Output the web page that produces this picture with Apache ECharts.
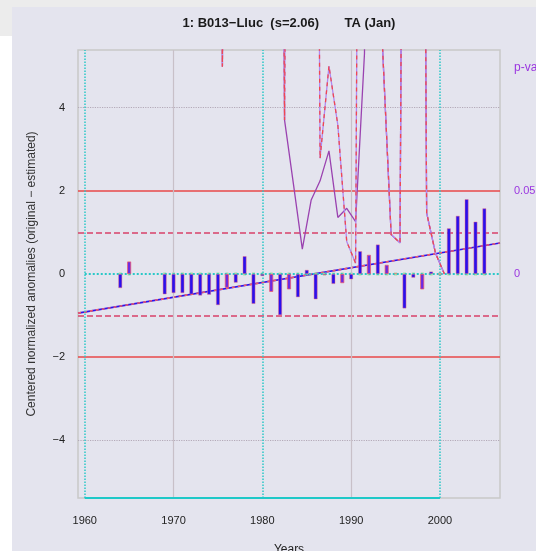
<!DOCTYPE html>
<html><head><meta charset="utf-8">
<script src="https://cdn.jsdelivr.net/npm/echarts@6/dist/echarts.min.js"></script>
<style>html,body{margin:0;padding:0;background:#fff}#c{width:536px;height:551px}</style>
</head><body><div id="c"></div>
<script>
// ---- data ----
const years = [1961,1962,1963,1964,1965,1966,1967,1968,1969,1970,1971,1972,1973,1974,1975,1976,1977,1978,1979,1980,1981,1982,1983,1984,1985,1986,1987,1988,1989,1990,1991,1992,1993,1994,1995,1996,1997,1998,1999,2000,2001,2002,2003,2004,2005];
const anomalies = [null,null,null,-0.34,0.30,null,null,null,-0.49,-0.46,-0.46,-0.49,-0.52,-0.50,-0.75,-0.33,-0.21,0.43,-0.72,-0.05,-0.43,-0.99,-0.37,-0.56,0.10,-0.61,-0.03,-0.24,-0.22,-0.13,0.55,0.46,0.71,0.22,0.02,-0.83,-0.09,-0.37,0.06,0.00,1.10,1.40,1.80,1.26,1.58];
const reddishYears = [1965,1976,1981,1983,1989,1992,1994,1998];
const trendYears = [1959.24, 2006.76];
const trendValues = [-0.94, 0.745];
const pYears = [1974.5,1975.5,1976.5,1977.5,1978.5,1979.5,1980.5,1981.5,1982.5,1983.5,1984.5,1985.5,1986.5,1987.5,1988.5,1989.5,1990.5,1991.5,1992.5,1993.5,1994.5,1995.5,1996.5,1997.5,1998.5,1999.5,2000.5];
const pValuesA = [1,0.1246,1,1,1,1,1,1,0.0925,1,1,1,0.0695,0.125,0.0895,0.0195,0.0065,1,1,0.14,0.0237,0.0187,1,1,0.0367,0.0124,0.0];
const pValuesB = [1,0.1246,1,1,1,1,1,1,0.0925,0.054,0.015,0.0445,0.056,0.074,0.034,0.0395,0.0315,0.1325,1,0.14,0.0237,0.0187,1,1,0.0367,0.0124,0.0];
const xTicks = [1960,1970,1980,1990,2000];
const yTicks = [-4,-2,0,2,4];
const pTicks = [0,0.05];
const title = '1: B013\u2212Lluc  (s=2.06)       TA (Jan)';
const yTitle = 'Centered normalized anomalies (original \u2212 estimated)';
const xTitle = 'Years';
const xMin = 1959.24, xMax = 2006.76;
const yLim = 5.385;
const pScale = 0.025; // 0.05 on p axis aligns with 2 on left axis

// ---- chart ----
const chart = echarts.init(document.getElementById('c'), null, {renderer:'canvas'});
const F = 'Liberation Sans, Arial, sans-serif';
const barData = years.map((y,i)=>({value:[y, anomalies[i]], itemStyle: reddishYears.includes(y) ? {color:'#6a2ae4', borderColor:'rgba(244,88,100,0.9)'} : {}}));
const zeroDots = years.filter((y,i)=>anomalies[i]!==null).map(y=>[y,0]);
const hl = (v, color, type, w) => ({yAxis: v, lineStyle:{color, type, width:w}});
const vl = (v, color, type, w) => ({xAxis: v, lineStyle:{color, type, width:w}});

chart.setOption({
  backgroundColor:'#ffffff',
  animation:false,
  graphic:[
    {type:'rect', shape:{x:0,y:0,width:536,height:7}, style:{fill:'#ececec'}, silent:true, z:-10},
    {type:'rect', shape:{x:0,y:0,width:12,height:36}, style:{fill:'#ececec'}, silent:true, z:-10},
    {type:'rect', shape:{x:12,y:7,width:524,height:544}, style:{fill:'#e4e4ee'}, silent:true, z:-9},
    {type:'text', x:514, y:68, style:{text:'p-value', fill:'#9b36e0', font:'12px '+F, textVerticalAlign:'middle'}},
    {type:'text', x:289, y:23, style:{text:title, fill:'#1a1a1a', font:'bold 13px '+F, textAlign:'center', textVerticalAlign:'middle'}},
  ],
  grid:{left:78, top:50, right:36, bottom:53, outerBoundsMode:'none', containLabel:false, show:true, borderColor:'#c8c8c8', borderWidth:1.5, backgroundColor:'transparent'},
  xAxis:{type:'value', min:xMin, max:xMax, name:xTitle, nameLocation:'middle', nameGap:46,
    nameTextStyle:{color:'#222', fontSize:12, fontFamily:F},
    axisLine:{show:false}, axisTick:{show:false}, splitLine:{show:false},
    axisLabel:{customValues:xTicks, color:'#222', fontSize:11, fontFamily:F, margin:17, formatter:v=>String(v)}},
  yAxis:[
    {type:'value', min:-yLim, max:yLim, name:yTitle, nameLocation:'middle', nameGap:40, nameRotate:90,
     nameTextStyle:{color:'#333', fontSize:12, fontFamily:F},
     axisLine:{show:false}, axisTick:{show:false}, splitLine:{show:false},
     axisLabel:{customValues:yTicks, color:'#222', fontSize:11, fontFamily:F, margin:13, formatter:v=>String(v).replace('-','\u2212')}},
    {type:'value', min:-yLim*pScale, max:yLim*pScale, position:'right',
     axisLine:{show:false}, axisTick:{show:false}, splitLine:{show:false},
     axisLabel:{customValues:pTicks, color:'#9b36e0', fontSize:11, fontFamily:F, margin:14, formatter:v=> v===0?'0':'0.05'}}
  ],
  series:[
    {type:'line', data:[], silent:true, markLine:{symbol:'none', silent:true, label:{show:false}, animation:false, data:[
      hl(4,'#b4aab8','dotted',1.2), hl(-4,'#b4aab8','dotted',1.2),
      hl(2,'#e84848','solid',1.5), hl(-2,'#e84848','solid',1.5),
      hl(1,'#d8406a','dashed',1.5), hl(-1,'#d8406a','dashed',1.5),
      vl(1970,'#c8c0c8','solid',1.2), vl(1990,'#c8c0c8','solid',1.2),
      vl(1960,'#2ac8c8','dotted',1.5), vl(1980,'#2ac8c8','dotted',1.5), vl(2000,'#2ac8c8','dotted',1.5),
      [{coord:[1960,0], lineStyle:{color:'#2ac8c8', type:'dotted', width:2}}, {coord:[xMax,0]}],
      [{coord:[1960,-yLim], lineStyle:{color:'#1ec8c8', type:'solid', width:2}}, {coord:[2000,-yLim]}]
    ]}},
    {type:'line', data:trendYears.map((y,i)=>[y,trendValues[i]]), symbol:'none', lineStyle:{color:'#2a14ee', width:1.6}, z:3},
    {type:'line', data:trendYears.map((y,i)=>[y,trendValues[i]]), symbol:'none', lineStyle:{color:'#f05a6a', width:1.6, type:[3,3]}, z:4},
    {type:'bar', data:barData, barWidth:4, itemStyle:{color:'#2a10ee', borderColor:'rgba(244,110,120,0.55)', borderWidth:0.8}, z:5},
    {type:'scatter', data:zeroDots, symbol:'rect', symbolSize:3, itemStyle:{color:'#9ad890'}, z:4, silent:true},
    {type:'line', yAxisIndex:1, data:pYears.map((y,i)=>[y,pValuesB[i]]), symbol:'none', lineStyle:{color:'#9a42b0', width:1.3}, z:7, clip:true},
    {type:'line', yAxisIndex:1, data:pYears.map((y,i)=>[y,pValuesA[i]]), symbol:'none', lineStyle:{color:'#b088f0', width:1.3}, z:8, clip:true},
    {type:'line', yAxisIndex:1, data:pYears.map((y,i)=>[y,pValuesA[i]]), symbol:'none', lineStyle:{color:'#f04850', width:1.3, type:[4,4]}, z:9, clip:true}
  ]
});
</script></body></html>
